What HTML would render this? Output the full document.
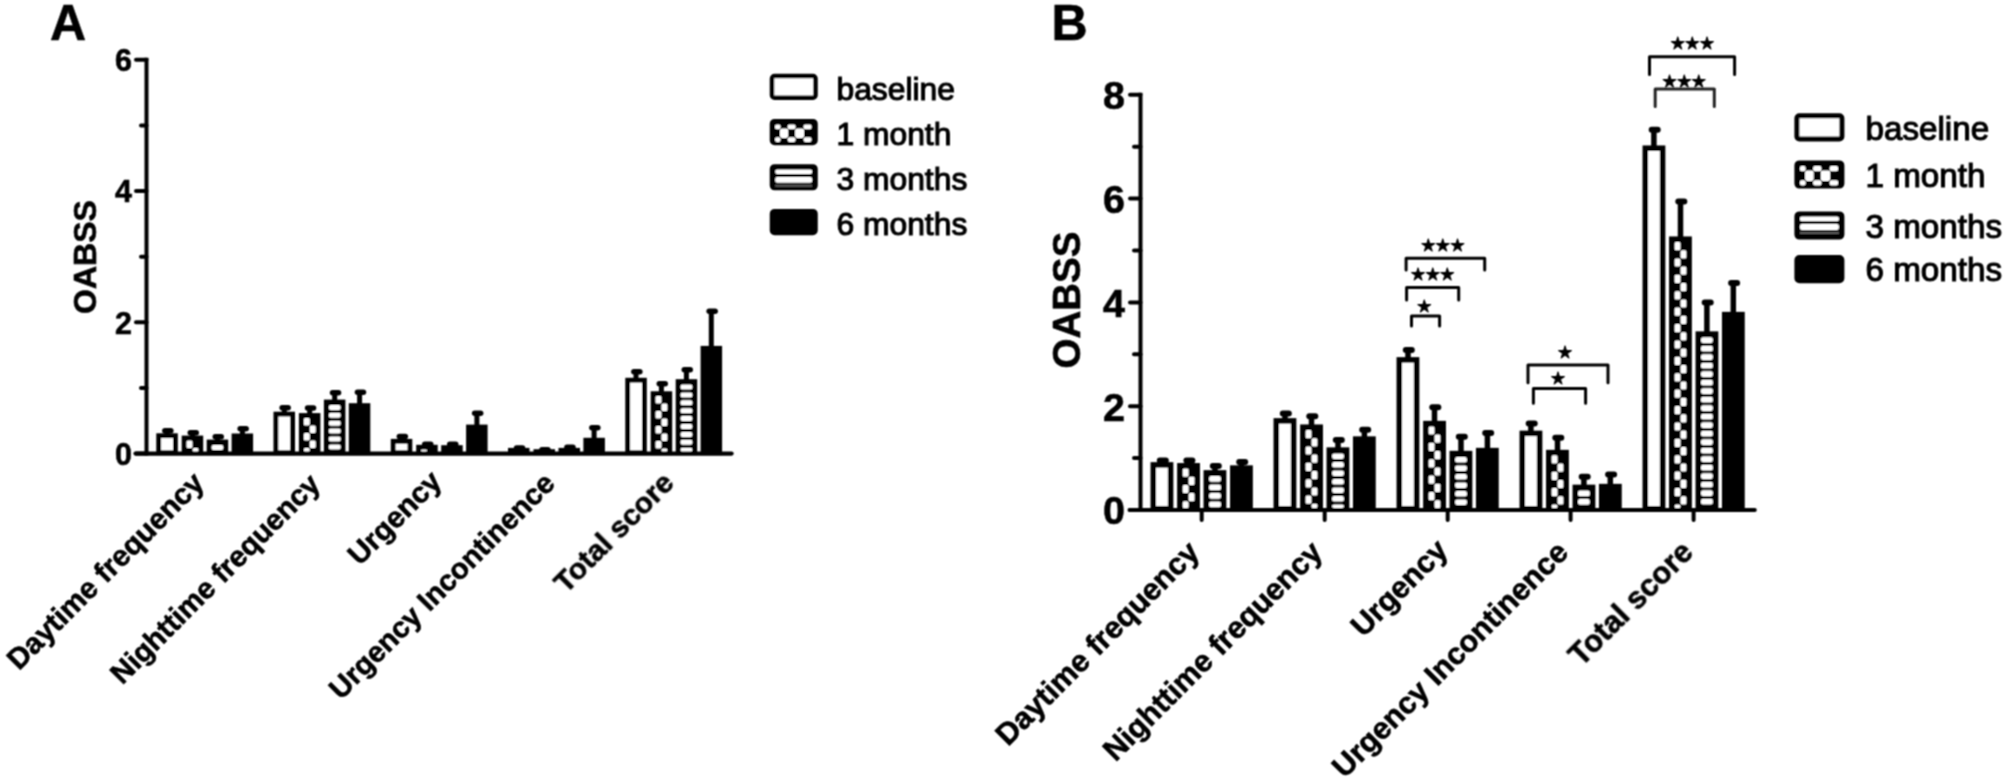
<!DOCTYPE html><html><head><meta charset="utf-8"><title>OABSS</title><style>html,body{margin:0;padding:0;background:#fff;}svg{display:block;}</style></head><body>
<svg width="2007" height="784" viewBox="0 0 2007 784">
<rect width="2007" height="784" fill="#fff"/>
<defs>
<filter id="soft" filterUnits="userSpaceOnUse" x="0" y="0" width="2007" height="784"><feConvolveMatrix order="3" kernelMatrix="1 2 1 2 4 2 1 2 1" divisor="16" edgeMode="duplicate"/></filter>
</defs>
<g filter="url(#soft)">
<text x="50" y="40.2" style="font-family:'Liberation Sans',Arial,sans-serif;font-weight:bold;stroke:#000;stroke-width:0.6;font-size:50px">A</text>
<line x1="146.5" y1="57.8" x2="146.5" y2="455.6" stroke="#000" stroke-width="4"/>
<line x1="135.5" y1="453.6" x2="731.6" y2="453.6" stroke="#000" stroke-width="4.2" stroke-linecap="round"/>
<line x1="136" y1="453.6" x2="146.5" y2="453.6" stroke="#000" stroke-width="4" stroke-linecap="round"/>
<text x="132" y="464.8" text-anchor="end" style="font-family:'Liberation Sans',Arial,sans-serif;font-weight:bold;stroke:#000;stroke-width:0.6;font-size:30.5px">0</text>
<line x1="141" y1="388.0" x2="146.5" y2="388.0" stroke="#000" stroke-width="4" stroke-linecap="round"/>
<line x1="136" y1="322.3" x2="146.5" y2="322.3" stroke="#000" stroke-width="4" stroke-linecap="round"/>
<text x="132" y="333.5" text-anchor="end" style="font-family:'Liberation Sans',Arial,sans-serif;font-weight:bold;stroke:#000;stroke-width:0.6;font-size:30.5px">2</text>
<line x1="141" y1="256.7" x2="146.5" y2="256.7" stroke="#000" stroke-width="4" stroke-linecap="round"/>
<line x1="136" y1="191.1" x2="146.5" y2="191.1" stroke="#000" stroke-width="4" stroke-linecap="round"/>
<text x="132" y="202.3" text-anchor="end" style="font-family:'Liberation Sans',Arial,sans-serif;font-weight:bold;stroke:#000;stroke-width:0.6;font-size:30.5px">4</text>
<line x1="141" y1="125.5" x2="146.5" y2="125.5" stroke="#000" stroke-width="4" stroke-linecap="round"/>
<line x1="136" y1="59.8" x2="146.5" y2="59.8" stroke="#000" stroke-width="4" stroke-linecap="round"/>
<text x="132" y="71.0" text-anchor="end" style="font-family:'Liberation Sans',Arial,sans-serif;font-weight:bold;stroke:#000;stroke-width:0.6;font-size:30.5px">6</text>
<text transform="translate(96.3,257) rotate(-90)" text-anchor="middle" style="font-family:'Liberation Sans',Arial,sans-serif;font-weight:bold;stroke:#000;stroke-width:0.6;font-size:32px">OABSS</text>
<line x1="167.1" y1="435.3" x2="167.1" y2="430.6" stroke="#000" stroke-width="5"/>
<rect x="162.1" y="427.9" width="11.5" height="5.5" rx="2.8" fill="#000"/>
<rect x="158.7" y="435.7" width="16.7" height="17.0" fill="#fff" stroke="#000" stroke-width="4.8"/>
<line x1="192.5" y1="437.6" x2="192.5" y2="432.8" stroke="#000" stroke-width="5"/>
<rect x="187.5" y="430.0" width="11.5" height="5.5" rx="2.8" fill="#000"/>
<rect x="184.1" y="438.0" width="16.7" height="14.7" fill="#000" stroke="#000" stroke-width="4.8"/>
<rect x="186.5" y="440.4" width="6.0" height="7.5" rx="1.5" fill="#fff"/>
<rect x="192.5" y="447.9" width="6.0" height="3.7" rx="1.5" fill="#fff"/>
<line x1="217.5" y1="441.6" x2="217.5" y2="436.8" stroke="#000" stroke-width="5"/>
<rect x="212.5" y="434.0" width="11.5" height="5.5" rx="2.8" fill="#000"/>
<rect x="209.1" y="442.0" width="16.7" height="10.7" fill="#000" stroke="#000" stroke-width="4.8"/>
<rect x="211.5" y="444.9" width="11.9" height="5.0" rx="2" fill="#fff"/>
<line x1="242.4" y1="435.5" x2="242.4" y2="428.6" stroke="#000" stroke-width="5"/>
<rect x="237.4" y="425.9" width="11.5" height="5.5" rx="2.8" fill="#000"/>
<rect x="234.0" y="435.9" width="16.7" height="16.8" fill="#000" stroke="#000" stroke-width="4.8"/>
<text transform="translate(205.7,484.6) rotate(-45)" text-anchor="end" style="font-family:'Liberation Sans',Arial,sans-serif;font-weight:bold;stroke:#000;stroke-width:0.6;font-size:29.5px">Daytime frequency</text>
<line x1="284.3" y1="413.7" x2="284.3" y2="407.8" stroke="#000" stroke-width="5"/>
<rect x="279.4" y="405.0" width="11.5" height="5.5" rx="2.8" fill="#000"/>
<rect x="275.9" y="414.1" width="16.7" height="38.6" fill="#fff" stroke="#000" stroke-width="4.8"/>
<line x1="309.7" y1="415.1" x2="309.7" y2="408.1" stroke="#000" stroke-width="5"/>
<rect x="304.8" y="405.3" width="11.5" height="5.5" rx="2.8" fill="#000"/>
<rect x="301.3" y="415.5" width="16.7" height="37.2" fill="#000" stroke="#000" stroke-width="4.8"/>
<rect x="303.8" y="417.9" width="6.0" height="7.5" rx="1.5" fill="#fff"/>
<rect x="309.7" y="425.4" width="6.0" height="7.5" rx="1.5" fill="#fff"/>
<rect x="303.8" y="432.9" width="6.0" height="7.5" rx="1.5" fill="#fff"/>
<rect x="309.7" y="440.4" width="6.0" height="7.5" rx="1.5" fill="#fff"/>
<rect x="303.8" y="447.9" width="6.0" height="3.7" rx="1.5" fill="#fff"/>
<line x1="334.7" y1="401.6" x2="334.7" y2="392.8" stroke="#000" stroke-width="5"/>
<rect x="329.8" y="390.0" width="11.5" height="5.5" rx="2.8" fill="#000"/>
<rect x="326.3" y="402.0" width="16.7" height="50.7" fill="#000" stroke="#000" stroke-width="4.8"/>
<rect x="328.8" y="404.9" width="11.9" height="5.0" rx="2" fill="#fff"/>
<rect x="328.8" y="412.8" width="11.9" height="5.0" rx="2" fill="#fff"/>
<rect x="328.8" y="420.7" width="11.9" height="5.0" rx="2" fill="#fff"/>
<rect x="328.8" y="428.6" width="11.9" height="5.0" rx="2" fill="#fff"/>
<rect x="328.8" y="436.5" width="11.9" height="5.0" rx="2" fill="#fff"/>
<rect x="328.8" y="444.4" width="11.9" height="5.0" rx="2" fill="#fff"/>
<line x1="359.6" y1="405.2" x2="359.6" y2="392.4" stroke="#000" stroke-width="5"/>
<rect x="354.7" y="389.6" width="11.5" height="5.5" rx="2.8" fill="#000"/>
<rect x="351.2" y="405.6" width="16.7" height="47.1" fill="#000" stroke="#000" stroke-width="4.8"/>
<text transform="translate(321.8,485.9) rotate(-45)" text-anchor="end" style="font-family:'Liberation Sans',Arial,sans-serif;font-weight:bold;stroke:#000;stroke-width:0.6;font-size:29.2px">Nighttime frequency</text>
<line x1="401.6" y1="440.9" x2="401.6" y2="436.6" stroke="#000" stroke-width="5"/>
<rect x="396.6" y="433.8" width="11.5" height="5.5" rx="2.8" fill="#000"/>
<rect x="393.2" y="441.3" width="16.7" height="11.4" fill="#fff" stroke="#000" stroke-width="4.8"/>
<line x1="426.9" y1="446.8" x2="426.9" y2="444.1" stroke="#000" stroke-width="5"/>
<rect x="422.0" y="441.4" width="11.5" height="5.5" rx="2.8" fill="#000"/>
<rect x="418.6" y="447.2" width="16.7" height="5.5" fill="#000" stroke="#000" stroke-width="4.8"/>
<rect x="421.0" y="449.6" width="6.0" height="2.0" rx="1.5" fill="#fff"/>
<line x1="451.9" y1="447.2" x2="451.9" y2="444.2" stroke="#000" stroke-width="5"/>
<rect x="447.0" y="441.5" width="11.5" height="5.5" rx="2.8" fill="#000"/>
<rect x="443.6" y="447.6" width="16.7" height="5.1" fill="#000" stroke="#000" stroke-width="4.8"/>
<line x1="476.9" y1="426.6" x2="476.9" y2="413.1" stroke="#000" stroke-width="5"/>
<rect x="471.9" y="410.4" width="11.5" height="5.5" rx="2.8" fill="#000"/>
<rect x="468.5" y="427.0" width="16.7" height="25.7" fill="#000" stroke="#000" stroke-width="4.8"/>
<text transform="translate(443.2,483.1) rotate(-45)" text-anchor="end" style="font-family:'Liberation Sans',Arial,sans-serif;font-weight:bold;stroke:#000;stroke-width:0.6;font-size:29.5px">Urgency</text>
<line x1="518.8" y1="449.9" x2="518.8" y2="447.9" stroke="#000" stroke-width="5"/>
<rect x="513.8" y="445.2" width="11.5" height="5.5" rx="2.8" fill="#000"/>
<rect x="510.4" y="450.3" width="16.7" height="2.4" fill="#fff" stroke="#000" stroke-width="4.8"/>
<line x1="544.2" y1="451.2" x2="544.2" y2="449.6" stroke="#000" stroke-width="5"/>
<rect x="539.2" y="446.9" width="11.5" height="5.5" rx="2.8" fill="#000"/>
<rect x="535.9" y="451.6" width="16.7" height="1.1" fill="#000" stroke="#000" stroke-width="4.8"/>
<line x1="569.2" y1="449.9" x2="569.2" y2="447.4" stroke="#000" stroke-width="5"/>
<rect x="564.2" y="444.6" width="11.5" height="5.5" rx="2.8" fill="#000"/>
<rect x="560.9" y="450.3" width="16.7" height="2.4" fill="#000" stroke="#000" stroke-width="4.8"/>
<line x1="594.1" y1="439.8" x2="594.1" y2="427.6" stroke="#000" stroke-width="5"/>
<rect x="589.1" y="424.9" width="11.5" height="5.5" rx="2.8" fill="#000"/>
<rect x="585.8" y="440.2" width="16.7" height="12.5" fill="#000" stroke="#000" stroke-width="4.8"/>
<text transform="translate(556.5,485.1) rotate(-45)" text-anchor="end" style="font-family:'Liberation Sans',Arial,sans-serif;font-weight:bold;stroke:#000;stroke-width:0.6;font-size:29.2px">Urgency Incontinence</text>
<line x1="636.0" y1="379.8" x2="636.0" y2="371.8" stroke="#000" stroke-width="5"/>
<rect x="631.1" y="369.0" width="11.5" height="5.5" rx="2.8" fill="#000"/>
<rect x="627.7" y="380.2" width="16.7" height="72.5" fill="#fff" stroke="#000" stroke-width="4.8"/>
<line x1="661.4" y1="393.3" x2="661.4" y2="383.9" stroke="#000" stroke-width="5"/>
<rect x="656.5" y="381.1" width="11.5" height="5.5" rx="2.8" fill="#000"/>
<rect x="653.1" y="393.7" width="16.7" height="59.0" fill="#000" stroke="#000" stroke-width="4.8"/>
<rect x="655.5" y="396.1" width="6.0" height="7.5" rx="1.5" fill="#fff"/>
<rect x="661.4" y="403.6" width="6.0" height="7.5" rx="1.5" fill="#fff"/>
<rect x="655.5" y="411.1" width="6.0" height="7.5" rx="1.5" fill="#fff"/>
<rect x="661.4" y="418.6" width="6.0" height="7.5" rx="1.5" fill="#fff"/>
<rect x="655.5" y="426.1" width="6.0" height="7.5" rx="1.5" fill="#fff"/>
<rect x="661.4" y="433.6" width="6.0" height="7.5" rx="1.5" fill="#fff"/>
<rect x="655.5" y="441.1" width="6.0" height="7.5" rx="1.5" fill="#fff"/>
<rect x="661.4" y="448.6" width="6.0" height="3.0" rx="1.5" fill="#fff"/>
<line x1="686.4" y1="381.2" x2="686.4" y2="369.9" stroke="#000" stroke-width="5"/>
<rect x="681.5" y="367.1" width="11.5" height="5.5" rx="2.8" fill="#000"/>
<rect x="678.1" y="381.6" width="16.7" height="71.1" fill="#000" stroke="#000" stroke-width="4.8"/>
<rect x="680.5" y="384.5" width="11.9" height="5.0" rx="2" fill="#fff"/>
<rect x="680.5" y="392.4" width="11.9" height="5.0" rx="2" fill="#fff"/>
<rect x="680.5" y="400.3" width="11.9" height="5.0" rx="2" fill="#fff"/>
<rect x="680.5" y="408.2" width="11.9" height="5.0" rx="2" fill="#fff"/>
<rect x="680.5" y="416.1" width="11.9" height="5.0" rx="2" fill="#fff"/>
<rect x="680.5" y="424.0" width="11.9" height="5.0" rx="2" fill="#fff"/>
<rect x="680.5" y="431.9" width="11.9" height="5.0" rx="2" fill="#fff"/>
<rect x="680.5" y="439.8" width="11.9" height="5.0" rx="2" fill="#fff"/>
<rect x="680.5" y="447.7" width="11.9" height="3.9" rx="2" fill="#fff"/>
<line x1="711.3" y1="347.9" x2="711.3" y2="311.4" stroke="#000" stroke-width="5"/>
<rect x="706.4" y="308.6" width="11.5" height="5.5" rx="2.8" fill="#000"/>
<rect x="703.0" y="348.3" width="16.7" height="104.4" fill="#000" stroke="#000" stroke-width="4.8"/>
<text transform="translate(675.7,484.6) rotate(-45)" text-anchor="end" style="font-family:'Liberation Sans',Arial,sans-serif;font-weight:bold;stroke:#000;stroke-width:0.6;font-size:29.5px">Total score</text>
<rect x="772.0" y="76.0" width="43.5" height="21.7" rx="2.5" fill="#fff" stroke="#000" stroke-width="4.5"/>
<text x="836.5" y="99.8" style="font-family:'Liberation Sans',Arial,sans-serif;stroke:#000;stroke-width:1.1;font-size:31.8px">baseline</text>
<rect x="772.0" y="121.2" width="43.5" height="21.7" rx="2.5" fill="#000" stroke="#000" stroke-width="4.5"/>
<rect x="775.0" y="124.6" width="5.6" height="4.6" rx="1.8" fill="#fff"/>
<rect x="787.6" y="124.6" width="8.0" height="4.6" rx="1.8" fill="#fff"/>
<rect x="803.5" y="124.6" width="8.1" height="4.6" rx="1.8" fill="#fff"/>
<rect x="780.0" y="128.6" width="8.2" height="9.3" rx="1.8" fill="#fff"/>
<rect x="795.1" y="128.6" width="9.0" height="9.3" rx="1.8" fill="#fff"/>
<rect x="775.0" y="137.3" width="5.6" height="4.6" rx="1.8" fill="#fff"/>
<rect x="787.6" y="137.3" width="8.0" height="4.6" rx="1.8" fill="#fff"/>
<rect x="803.5" y="137.3" width="8.1" height="4.6" rx="1.8" fill="#fff"/>
<text x="836.5" y="144.9" style="font-family:'Liberation Sans',Arial,sans-serif;stroke:#000;stroke-width:1.1;font-size:31.8px">1 month</text>
<rect x="772.0" y="166.4" width="43.5" height="21.7" rx="2.5" fill="#000" stroke="#000" stroke-width="4.5"/>
<rect x="775.2" y="169.4" width="37.0" height="4.6" rx="2" fill="#fff"/>
<rect x="775.2" y="176.9" width="37.0" height="5.8" rx="2" fill="#fff"/>
<rect x="775.2" y="184.6" width="37.0" height="2.2" fill="#555"/>
<text x="836.5" y="190.2" style="font-family:'Liberation Sans',Arial,sans-serif;stroke:#000;stroke-width:1.1;font-size:31.8px">3 months</text>
<rect x="772.0" y="211.2" width="43.5" height="21.7" rx="2.5" fill="#000" stroke="#000" stroke-width="4.5"/>
<text x="836.5" y="235.0" style="font-family:'Liberation Sans',Arial,sans-serif;stroke:#000;stroke-width:1.1;font-size:31.8px">6 months</text>
<text x="1051.5" y="40.3" style="font-family:'Liberation Sans',Arial,sans-serif;font-weight:bold;stroke:#000;stroke-width:0.6;font-size:50px">B</text>
<line x1="1140.5" y1="92.8" x2="1140.5" y2="512.0" stroke="#000" stroke-width="4"/>
<line x1="1129.5" y1="510.0" x2="1754.8" y2="510.0" stroke="#000" stroke-width="4" stroke-linecap="round"/>
<line x1="1130" y1="510.0" x2="1140.5" y2="510.0" stroke="#000" stroke-width="4" stroke-linecap="round"/>
<text x="1125" y="524.3" text-anchor="end" style="font-family:'Liberation Sans',Arial,sans-serif;font-weight:bold;stroke:#000;stroke-width:0.6;font-size:39.5px">0</text>
<line x1="1134" y1="458.1" x2="1140.5" y2="458.1" stroke="#000" stroke-width="4" stroke-linecap="round"/>
<line x1="1130" y1="406.2" x2="1140.5" y2="406.2" stroke="#000" stroke-width="4" stroke-linecap="round"/>
<text x="1125" y="420.5" text-anchor="end" style="font-family:'Liberation Sans',Arial,sans-serif;font-weight:bold;stroke:#000;stroke-width:0.6;font-size:39.5px">2</text>
<line x1="1134" y1="354.3" x2="1140.5" y2="354.3" stroke="#000" stroke-width="4" stroke-linecap="round"/>
<line x1="1130" y1="302.4" x2="1140.5" y2="302.4" stroke="#000" stroke-width="4" stroke-linecap="round"/>
<text x="1125" y="316.7" text-anchor="end" style="font-family:'Liberation Sans',Arial,sans-serif;font-weight:bold;stroke:#000;stroke-width:0.6;font-size:39.5px">4</text>
<line x1="1134" y1="250.5" x2="1140.5" y2="250.5" stroke="#000" stroke-width="4" stroke-linecap="round"/>
<line x1="1130" y1="198.6" x2="1140.5" y2="198.6" stroke="#000" stroke-width="4" stroke-linecap="round"/>
<text x="1125" y="212.9" text-anchor="end" style="font-family:'Liberation Sans',Arial,sans-serif;font-weight:bold;stroke:#000;stroke-width:0.6;font-size:39.5px">6</text>
<line x1="1134" y1="146.7" x2="1140.5" y2="146.7" stroke="#000" stroke-width="4" stroke-linecap="round"/>
<line x1="1130" y1="94.8" x2="1140.5" y2="94.8" stroke="#000" stroke-width="4" stroke-linecap="round"/>
<text x="1125" y="109.1" text-anchor="end" style="font-family:'Liberation Sans',Arial,sans-serif;font-weight:bold;stroke:#000;stroke-width:0.6;font-size:39.5px">8</text>
<text transform="translate(1079.5,300) rotate(-90)" text-anchor="middle" style="font-family:'Liberation Sans',Arial,sans-serif;font-weight:bold;stroke:#000;stroke-width:0.6;font-size:38.5px">OABSS</text>
<line x1="1162.0" y1="464.2" x2="1162.0" y2="460.5" stroke="#000" stroke-width="5.5"/>
<rect x="1156.8" y="457.5" width="12.0" height="6.0" rx="3.0" fill="#000"/>
<rect x="1153.3" y="464.9" width="17.3" height="43.8" fill="#fff" stroke="#000" stroke-width="5.5"/>
<line x1="1188.6" y1="465.0" x2="1188.6" y2="460.5" stroke="#000" stroke-width="5.5"/>
<rect x="1183.4" y="457.5" width="12.0" height="6.0" rx="3.0" fill="#000"/>
<rect x="1179.9" y="465.8" width="17.3" height="43.0" fill="#000" stroke="#000" stroke-width="5.5"/>
<rect x="1182.7" y="468.5" width="5.9" height="8.2" rx="1.5" fill="#fff"/>
<rect x="1188.6" y="476.7" width="5.9" height="8.2" rx="1.5" fill="#fff"/>
<rect x="1182.7" y="484.9" width="5.9" height="8.2" rx="1.5" fill="#fff"/>
<rect x="1188.6" y="493.1" width="5.9" height="8.2" rx="1.5" fill="#fff"/>
<rect x="1182.7" y="501.3" width="5.9" height="6.7" rx="1.5" fill="#fff"/>
<line x1="1215.0" y1="472.1" x2="1215.0" y2="466.0" stroke="#000" stroke-width="5.5"/>
<rect x="1209.8" y="463.0" width="12.0" height="6.0" rx="3.0" fill="#000"/>
<rect x="1206.3" y="472.9" width="17.3" height="35.9" fill="#000" stroke="#000" stroke-width="5.5"/>
<rect x="1209.1" y="476.1" width="11.8" height="5.6" rx="2" fill="#fff"/>
<rect x="1209.1" y="484.6" width="11.8" height="5.6" rx="2" fill="#fff"/>
<rect x="1209.1" y="493.1" width="11.8" height="5.6" rx="2" fill="#fff"/>
<rect x="1209.1" y="501.6" width="11.8" height="5.6" rx="2" fill="#fff"/>
<line x1="1241.4" y1="467.3" x2="1241.4" y2="462.0" stroke="#000" stroke-width="5.5"/>
<rect x="1236.2" y="459.0" width="12.0" height="6.0" rx="3.0" fill="#000"/>
<rect x="1232.8" y="468.1" width="17.3" height="40.7" fill="#000" stroke="#000" stroke-width="5.5"/>
<line x1="1201.7" y1="510.0" x2="1201.7" y2="520" stroke="#000" stroke-width="4" stroke-linecap="round"/>
<text transform="translate(1201.0,554.0) rotate(-45)" text-anchor="end" style="font-family:'Liberation Sans',Arial,sans-serif;font-weight:bold;stroke:#000;stroke-width:0.6;font-size:30.5px">Daytime frequency</text>
<line x1="1285.0" y1="420.1" x2="1285.0" y2="413.4" stroke="#000" stroke-width="5.5"/>
<rect x="1279.8" y="410.4" width="12.0" height="6.0" rx="3.0" fill="#000"/>
<rect x="1276.3" y="420.9" width="17.3" height="87.9" fill="#fff" stroke="#000" stroke-width="5.5"/>
<line x1="1311.5" y1="426.5" x2="1311.5" y2="416.3" stroke="#000" stroke-width="5.5"/>
<rect x="1306.3" y="413.3" width="12.0" height="6.0" rx="3.0" fill="#000"/>
<rect x="1302.9" y="427.2" width="17.3" height="81.5" fill="#000" stroke="#000" stroke-width="5.5"/>
<rect x="1305.6" y="430.0" width="5.9" height="8.2" rx="1.5" fill="#fff"/>
<rect x="1311.5" y="438.2" width="5.9" height="8.2" rx="1.5" fill="#fff"/>
<rect x="1305.6" y="446.4" width="5.9" height="8.2" rx="1.5" fill="#fff"/>
<rect x="1311.5" y="454.6" width="5.9" height="8.2" rx="1.5" fill="#fff"/>
<rect x="1305.6" y="462.8" width="5.9" height="8.2" rx="1.5" fill="#fff"/>
<rect x="1311.5" y="471.0" width="5.9" height="8.2" rx="1.5" fill="#fff"/>
<rect x="1305.6" y="479.2" width="5.9" height="8.2" rx="1.5" fill="#fff"/>
<rect x="1311.5" y="487.4" width="5.9" height="8.2" rx="1.5" fill="#fff"/>
<rect x="1305.6" y="495.6" width="5.9" height="8.2" rx="1.5" fill="#fff"/>
<rect x="1311.5" y="503.8" width="5.9" height="4.2" rx="1.5" fill="#fff"/>
<line x1="1338.0" y1="449.4" x2="1338.0" y2="439.9" stroke="#000" stroke-width="5.5"/>
<rect x="1332.8" y="436.9" width="12.0" height="6.0" rx="3.0" fill="#000"/>
<rect x="1329.3" y="450.1" width="17.3" height="58.6" fill="#000" stroke="#000" stroke-width="5.5"/>
<rect x="1332.1" y="453.4" width="11.8" height="5.6" rx="2" fill="#fff"/>
<rect x="1332.1" y="461.9" width="11.8" height="5.6" rx="2" fill="#fff"/>
<rect x="1332.1" y="470.4" width="11.8" height="5.6" rx="2" fill="#fff"/>
<rect x="1332.1" y="478.9" width="11.8" height="5.6" rx="2" fill="#fff"/>
<rect x="1332.1" y="487.4" width="11.8" height="5.6" rx="2" fill="#fff"/>
<rect x="1332.1" y="495.9" width="11.8" height="5.6" rx="2" fill="#fff"/>
<rect x="1332.1" y="504.4" width="11.8" height="3.6" rx="2" fill="#fff"/>
<line x1="1364.4" y1="438.3" x2="1364.4" y2="429.7" stroke="#000" stroke-width="5.5"/>
<rect x="1359.2" y="426.7" width="12.0" height="6.0" rx="3.0" fill="#000"/>
<rect x="1355.7" y="439.1" width="17.3" height="69.7" fill="#000" stroke="#000" stroke-width="5.5"/>
<line x1="1324.7" y1="510.0" x2="1324.7" y2="520" stroke="#000" stroke-width="4" stroke-linecap="round"/>
<text transform="translate(1324.0,554.0) rotate(-45)" text-anchor="end" style="font-family:'Liberation Sans',Arial,sans-serif;font-weight:bold;stroke:#000;stroke-width:0.6;font-size:30.5px">Nighttime frequency</text>
<line x1="1408.0" y1="359.2" x2="1408.0" y2="349.9" stroke="#000" stroke-width="5.5"/>
<rect x="1402.8" y="346.9" width="12.0" height="6.0" rx="3.0" fill="#000"/>
<rect x="1399.3" y="359.9" width="17.3" height="148.8" fill="#fff" stroke="#000" stroke-width="5.5"/>
<line x1="1434.5" y1="422.9" x2="1434.5" y2="407.2" stroke="#000" stroke-width="5.5"/>
<rect x="1429.3" y="404.2" width="12.0" height="6.0" rx="3.0" fill="#000"/>
<rect x="1425.9" y="423.6" width="17.3" height="85.1" fill="#000" stroke="#000" stroke-width="5.5"/>
<rect x="1428.6" y="426.4" width="5.9" height="8.2" rx="1.5" fill="#fff"/>
<rect x="1434.5" y="434.6" width="5.9" height="8.2" rx="1.5" fill="#fff"/>
<rect x="1428.6" y="442.8" width="5.9" height="8.2" rx="1.5" fill="#fff"/>
<rect x="1434.5" y="451.0" width="5.9" height="8.2" rx="1.5" fill="#fff"/>
<rect x="1428.6" y="459.2" width="5.9" height="8.2" rx="1.5" fill="#fff"/>
<rect x="1434.5" y="467.4" width="5.9" height="8.2" rx="1.5" fill="#fff"/>
<rect x="1428.6" y="475.6" width="5.9" height="8.2" rx="1.5" fill="#fff"/>
<rect x="1434.5" y="483.8" width="5.9" height="8.2" rx="1.5" fill="#fff"/>
<rect x="1428.6" y="492.0" width="5.9" height="8.2" rx="1.5" fill="#fff"/>
<rect x="1434.5" y="500.2" width="5.9" height="7.8" rx="1.5" fill="#fff"/>
<line x1="1461.0" y1="452.9" x2="1461.0" y2="436.8" stroke="#000" stroke-width="5.5"/>
<rect x="1455.8" y="433.8" width="12.0" height="6.0" rx="3.0" fill="#000"/>
<rect x="1452.3" y="453.6" width="17.3" height="55.1" fill="#000" stroke="#000" stroke-width="5.5"/>
<rect x="1455.1" y="456.9" width="11.8" height="5.6" rx="2" fill="#fff"/>
<rect x="1455.1" y="465.4" width="11.8" height="5.6" rx="2" fill="#fff"/>
<rect x="1455.1" y="473.9" width="11.8" height="5.6" rx="2" fill="#fff"/>
<rect x="1455.1" y="482.4" width="11.8" height="5.6" rx="2" fill="#fff"/>
<rect x="1455.1" y="490.9" width="11.8" height="5.6" rx="2" fill="#fff"/>
<rect x="1455.1" y="499.4" width="11.8" height="5.6" rx="2" fill="#fff"/>
<line x1="1487.4" y1="449.8" x2="1487.4" y2="432.9" stroke="#000" stroke-width="5.5"/>
<rect x="1482.2" y="429.9" width="12.0" height="6.0" rx="3.0" fill="#000"/>
<rect x="1478.7" y="450.6" width="17.3" height="58.2" fill="#000" stroke="#000" stroke-width="5.5"/>
<line x1="1447.7" y1="510.0" x2="1447.7" y2="520" stroke="#000" stroke-width="4" stroke-linecap="round"/>
<text transform="translate(1449.5,552.0) rotate(-45)" text-anchor="end" style="font-family:'Liberation Sans',Arial,sans-serif;font-weight:bold;stroke:#000;stroke-width:0.6;font-size:30.5px">Urgency</text>
<line x1="1530.9" y1="432.6" x2="1530.9" y2="423.4" stroke="#000" stroke-width="5.5"/>
<rect x="1525.7" y="420.4" width="12.0" height="6.0" rx="3.0" fill="#000"/>
<rect x="1522.3" y="433.4" width="17.3" height="75.4" fill="#fff" stroke="#000" stroke-width="5.5"/>
<line x1="1557.5" y1="451.8" x2="1557.5" y2="437.8" stroke="#000" stroke-width="5.5"/>
<rect x="1552.3" y="434.8" width="12.0" height="6.0" rx="3.0" fill="#000"/>
<rect x="1548.8" y="452.6" width="17.3" height="56.2" fill="#000" stroke="#000" stroke-width="5.5"/>
<rect x="1551.6" y="455.3" width="5.9" height="8.2" rx="1.5" fill="#fff"/>
<rect x="1557.5" y="463.5" width="5.9" height="8.2" rx="1.5" fill="#fff"/>
<rect x="1551.6" y="471.7" width="5.9" height="8.2" rx="1.5" fill="#fff"/>
<rect x="1557.5" y="479.9" width="5.9" height="8.2" rx="1.5" fill="#fff"/>
<rect x="1551.6" y="488.1" width="5.9" height="8.2" rx="1.5" fill="#fff"/>
<rect x="1557.5" y="496.3" width="5.9" height="8.2" rx="1.5" fill="#fff"/>
<rect x="1551.6" y="504.5" width="5.9" height="3.5" rx="1.5" fill="#fff"/>
<line x1="1583.9" y1="486.6" x2="1583.9" y2="476.7" stroke="#000" stroke-width="5.5"/>
<rect x="1578.7" y="473.7" width="12.0" height="6.0" rx="3.0" fill="#000"/>
<rect x="1575.3" y="487.4" width="17.3" height="21.4" fill="#000" stroke="#000" stroke-width="5.5"/>
<rect x="1578.0" y="490.6" width="11.8" height="5.6" rx="2" fill="#fff"/>
<rect x="1578.0" y="499.1" width="11.8" height="5.6" rx="2" fill="#fff"/>
<line x1="1610.3" y1="485.9" x2="1610.3" y2="474.4" stroke="#000" stroke-width="5.5"/>
<rect x="1605.1" y="471.4" width="12.0" height="6.0" rx="3.0" fill="#000"/>
<rect x="1601.7" y="486.6" width="17.3" height="22.1" fill="#000" stroke="#000" stroke-width="5.5"/>
<line x1="1570.6" y1="510.0" x2="1570.6" y2="520" stroke="#000" stroke-width="4" stroke-linecap="round"/>
<text transform="translate(1569.9,554.0) rotate(-45)" text-anchor="end" style="font-family:'Liberation Sans',Arial,sans-serif;font-weight:bold;stroke:#000;stroke-width:0.6;font-size:30.5px">Urgency Incontinence</text>
<line x1="1653.9" y1="147.4" x2="1653.9" y2="129.7" stroke="#000" stroke-width="5.5"/>
<rect x="1648.7" y="126.7" width="12.0" height="6.0" rx="3.0" fill="#000"/>
<rect x="1645.3" y="148.2" width="17.3" height="360.6" fill="#fff" stroke="#000" stroke-width="5.5"/>
<line x1="1680.5" y1="238.5" x2="1680.5" y2="201.5" stroke="#000" stroke-width="5.5"/>
<rect x="1675.3" y="198.5" width="12.0" height="6.0" rx="3.0" fill="#000"/>
<rect x="1671.8" y="239.2" width="17.3" height="269.5" fill="#000" stroke="#000" stroke-width="5.5"/>
<rect x="1674.6" y="242.0" width="5.9" height="8.2" rx="1.5" fill="#fff"/>
<rect x="1680.5" y="250.2" width="5.9" height="8.2" rx="1.5" fill="#fff"/>
<rect x="1674.6" y="258.4" width="5.9" height="8.2" rx="1.5" fill="#fff"/>
<rect x="1680.5" y="266.6" width="5.9" height="8.2" rx="1.5" fill="#fff"/>
<rect x="1674.6" y="274.8" width="5.9" height="8.2" rx="1.5" fill="#fff"/>
<rect x="1680.5" y="283.0" width="5.9" height="8.2" rx="1.5" fill="#fff"/>
<rect x="1674.6" y="291.2" width="5.9" height="8.2" rx="1.5" fill="#fff"/>
<rect x="1680.5" y="299.4" width="5.9" height="8.2" rx="1.5" fill="#fff"/>
<rect x="1674.6" y="307.6" width="5.9" height="8.2" rx="1.5" fill="#fff"/>
<rect x="1680.5" y="315.8" width="5.9" height="8.2" rx="1.5" fill="#fff"/>
<rect x="1674.6" y="324.0" width="5.9" height="8.2" rx="1.5" fill="#fff"/>
<rect x="1680.5" y="332.2" width="5.9" height="8.2" rx="1.5" fill="#fff"/>
<rect x="1674.6" y="340.4" width="5.9" height="8.2" rx="1.5" fill="#fff"/>
<rect x="1680.5" y="348.6" width="5.9" height="8.2" rx="1.5" fill="#fff"/>
<rect x="1674.6" y="356.8" width="5.9" height="8.2" rx="1.5" fill="#fff"/>
<rect x="1680.5" y="365.0" width="5.9" height="8.2" rx="1.5" fill="#fff"/>
<rect x="1674.6" y="373.2" width="5.9" height="8.2" rx="1.5" fill="#fff"/>
<rect x="1680.5" y="381.4" width="5.9" height="8.2" rx="1.5" fill="#fff"/>
<rect x="1674.6" y="389.6" width="5.9" height="8.2" rx="1.5" fill="#fff"/>
<rect x="1680.5" y="397.8" width="5.9" height="8.2" rx="1.5" fill="#fff"/>
<rect x="1674.6" y="406.0" width="5.9" height="8.2" rx="1.5" fill="#fff"/>
<rect x="1680.5" y="414.2" width="5.9" height="8.2" rx="1.5" fill="#fff"/>
<rect x="1674.6" y="422.4" width="5.9" height="8.2" rx="1.5" fill="#fff"/>
<rect x="1680.5" y="430.6" width="5.9" height="8.2" rx="1.5" fill="#fff"/>
<rect x="1674.6" y="438.8" width="5.9" height="8.2" rx="1.5" fill="#fff"/>
<rect x="1680.5" y="447.0" width="5.9" height="8.2" rx="1.5" fill="#fff"/>
<rect x="1674.6" y="455.2" width="5.9" height="8.2" rx="1.5" fill="#fff"/>
<rect x="1680.5" y="463.4" width="5.9" height="8.2" rx="1.5" fill="#fff"/>
<rect x="1674.6" y="471.6" width="5.9" height="8.2" rx="1.5" fill="#fff"/>
<rect x="1680.5" y="479.8" width="5.9" height="8.2" rx="1.5" fill="#fff"/>
<rect x="1674.6" y="488.0" width="5.9" height="8.2" rx="1.5" fill="#fff"/>
<rect x="1680.5" y="496.2" width="5.9" height="8.2" rx="1.5" fill="#fff"/>
<rect x="1674.6" y="504.4" width="5.9" height="3.6" rx="1.5" fill="#fff"/>
<line x1="1706.9" y1="333.3" x2="1706.9" y2="302.4" stroke="#000" stroke-width="5.5"/>
<rect x="1701.7" y="299.4" width="12.0" height="6.0" rx="3.0" fill="#000"/>
<rect x="1698.3" y="334.1" width="17.3" height="174.7" fill="#000" stroke="#000" stroke-width="5.5"/>
<rect x="1701.0" y="337.3" width="11.8" height="5.6" rx="2" fill="#fff"/>
<rect x="1701.0" y="345.8" width="11.8" height="5.6" rx="2" fill="#fff"/>
<rect x="1701.0" y="354.3" width="11.8" height="5.6" rx="2" fill="#fff"/>
<rect x="1701.0" y="362.8" width="11.8" height="5.6" rx="2" fill="#fff"/>
<rect x="1701.0" y="371.3" width="11.8" height="5.6" rx="2" fill="#fff"/>
<rect x="1701.0" y="379.8" width="11.8" height="5.6" rx="2" fill="#fff"/>
<rect x="1701.0" y="388.3" width="11.8" height="5.6" rx="2" fill="#fff"/>
<rect x="1701.0" y="396.8" width="11.8" height="5.6" rx="2" fill="#fff"/>
<rect x="1701.0" y="405.3" width="11.8" height="5.6" rx="2" fill="#fff"/>
<rect x="1701.0" y="413.8" width="11.8" height="5.6" rx="2" fill="#fff"/>
<rect x="1701.0" y="422.3" width="11.8" height="5.6" rx="2" fill="#fff"/>
<rect x="1701.0" y="430.8" width="11.8" height="5.6" rx="2" fill="#fff"/>
<rect x="1701.0" y="439.3" width="11.8" height="5.6" rx="2" fill="#fff"/>
<rect x="1701.0" y="447.8" width="11.8" height="5.6" rx="2" fill="#fff"/>
<rect x="1701.0" y="456.3" width="11.8" height="5.6" rx="2" fill="#fff"/>
<rect x="1701.0" y="464.8" width="11.8" height="5.6" rx="2" fill="#fff"/>
<rect x="1701.0" y="473.3" width="11.8" height="5.6" rx="2" fill="#fff"/>
<rect x="1701.0" y="481.8" width="11.8" height="5.6" rx="2" fill="#fff"/>
<rect x="1701.0" y="490.3" width="11.8" height="5.6" rx="2" fill="#fff"/>
<rect x="1701.0" y="498.8" width="11.8" height="5.6" rx="2" fill="#fff"/>
<line x1="1733.3" y1="313.9" x2="1733.3" y2="283.0" stroke="#000" stroke-width="5.5"/>
<rect x="1728.1" y="280.0" width="12.0" height="6.0" rx="3.0" fill="#000"/>
<rect x="1724.7" y="314.6" width="17.3" height="194.1" fill="#000" stroke="#000" stroke-width="5.5"/>
<line x1="1693.6" y1="510.0" x2="1693.6" y2="520" stroke="#000" stroke-width="4" stroke-linecap="round"/>
<text transform="translate(1694.9,554.0) rotate(-45)" text-anchor="end" style="font-family:'Liberation Sans',Arial,sans-serif;font-weight:bold;stroke:#000;stroke-width:0.6;font-size:30.5px">Total score</text>
<path d="M1406.1,269.9 L1406.1,258.2 L1484.7,258.2 L1484.7,269.9" fill="none" stroke="#000" stroke-width="3" stroke-linejoin="round" stroke-linecap="round"/>
<text x="1442.6" y="251.0" text-anchor="middle" style="font-family:'DejaVu Sans',sans-serif;font-size:16.8px;letter-spacing:-0.4px;stroke:#000;stroke-width:1;stroke-linejoin:round">★★★</text>
<path d="M1406.6,300.0 L1406.6,287.5 L1458.7,287.5 L1458.7,300.0" fill="none" stroke="#000" stroke-width="3" stroke-linejoin="round" stroke-linecap="round"/>
<text x="1432.5" y="280.0" text-anchor="middle" style="font-family:'DejaVu Sans',sans-serif;font-size:16.8px;letter-spacing:-0.4px;stroke:#000;stroke-width:1;stroke-linejoin:round">★★★</text>
<path d="M1411.5,326.1 L1411.5,316.1 L1439.6,316.1 L1439.6,326.1" fill="none" stroke="#000" stroke-width="3" stroke-linejoin="round" stroke-linecap="round"/>
<text x="1424.0" y="311.6" text-anchor="middle" style="font-family:'DejaVu Sans',sans-serif;font-size:16.8px;letter-spacing:-0.4px;stroke:#000;stroke-width:1;stroke-linejoin:round">★</text>
<path d="M1528.0,382.7 L1528.0,365.0 L1608.0,365.0 L1608.0,382.7" fill="none" stroke="#000" stroke-width="3" stroke-linejoin="round" stroke-linecap="round"/>
<text x="1564.8" y="358.0" text-anchor="middle" style="font-family:'DejaVu Sans',sans-serif;font-size:16.8px;letter-spacing:-0.4px;stroke:#000;stroke-width:1;stroke-linejoin:round">★</text>
<path d="M1533.4,403.2 L1533.4,388.5 L1585.6,388.5 L1585.6,403.2" fill="none" stroke="#000" stroke-width="3" stroke-linejoin="round" stroke-linecap="round"/>
<text x="1557.8" y="383.7" text-anchor="middle" style="font-family:'DejaVu Sans',sans-serif;font-size:16.8px;letter-spacing:-0.4px;stroke:#000;stroke-width:1;stroke-linejoin:round">★</text>
<path d="M1649.5,74.6 L1649.5,56.8 L1734.6,56.8 L1734.6,74.6" fill="none" stroke="#000" stroke-width="3" stroke-linejoin="round" stroke-linecap="round"/>
<text x="1692.2" y="48.7" text-anchor="middle" style="font-family:'DejaVu Sans',sans-serif;font-size:16.8px;letter-spacing:-0.4px;stroke:#000;stroke-width:1;stroke-linejoin:round">★★★</text>
<path d="M1655.2,106.6 L1655.2,89.1 L1714.3,89.1 L1714.3,106.6" fill="none" stroke="#222" stroke-width="3" stroke-linejoin="round" stroke-linecap="round"/>
<text x="1684.0" y="86.5" text-anchor="middle" style="font-family:'DejaVu Sans',sans-serif;font-size:16.8px;letter-spacing:-0.4px;stroke:#000;stroke-width:1;stroke-linejoin:round">★★★</text>
<rect x="1796.9" y="115.8" width="45.0" height="23.2" rx="2.5" fill="#fff" stroke="#000" stroke-width="5"/>
<text x="1865.5" y="139.5" style="font-family:'Liberation Sans',Arial,sans-serif;stroke:#000;stroke-width:1.1;font-size:33.2px">baseline</text>
<rect x="1796.9" y="162.9" width="45.0" height="23.2" rx="2.5" fill="#000" stroke="#000" stroke-width="5"/>
<rect x="1799.9" y="166.1" width="5.8" height="5.1" rx="1.8" fill="#fff"/>
<rect x="1813.1" y="166.1" width="8.4" height="5.1" rx="1.8" fill="#fff"/>
<rect x="1829.6" y="166.1" width="8.5" height="5.1" rx="1.8" fill="#fff"/>
<rect x="1805.1" y="170.6" width="8.6" height="10.3" rx="1.8" fill="#fff"/>
<rect x="1820.8" y="170.6" width="9.4" height="10.3" rx="1.8" fill="#fff"/>
<rect x="1799.9" y="180.3" width="5.8" height="5.1" rx="1.8" fill="#fff"/>
<rect x="1813.1" y="180.3" width="8.4" height="5.1" rx="1.8" fill="#fff"/>
<rect x="1829.6" y="180.3" width="8.5" height="5.1" rx="1.8" fill="#fff"/>
<text x="1865.5" y="186.5" style="font-family:'Liberation Sans',Arial,sans-serif;stroke:#000;stroke-width:1.1;font-size:33.2px">1 month</text>
<rect x="1796.9" y="213.9" width="45.0" height="23.2" rx="2.5" fill="#000" stroke="#000" stroke-width="5"/>
<rect x="1799.9" y="216.6" width="39.0" height="4.6" rx="2" fill="#fff"/>
<rect x="1799.9" y="224.1" width="39.0" height="5.8" rx="2" fill="#fff"/>
<rect x="1799.9" y="231.8" width="39.0" height="2.2" fill="#555"/>
<text x="1865.5" y="238.3" style="font-family:'Liberation Sans',Arial,sans-serif;stroke:#000;stroke-width:1.1;font-size:33.2px">3 months</text>
<rect x="1796.9" y="257.5" width="45.0" height="23.2" rx="2.5" fill="#000" stroke="#000" stroke-width="5"/>
<text x="1865.5" y="281.2" style="font-family:'Liberation Sans',Arial,sans-serif;stroke:#000;stroke-width:1.1;font-size:33.2px">6 months</text>
</g></svg></body></html>
